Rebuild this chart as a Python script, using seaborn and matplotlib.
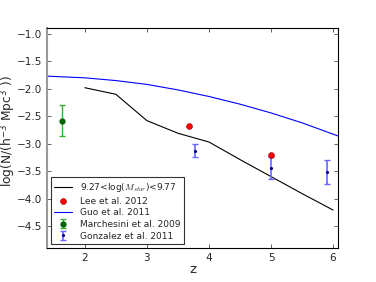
import matplotlib
matplotlib.use('Agg')
import matplotlib.pyplot as plt
import pandas as pd
import seaborn as sns

# model curve for the mass bin
z_model = [2.0, 2.5, 3.0, 3.5, 4.0, 4.5, 5.0, 5.5, 6.0]
n_model = [-1.98, -2.10, -2.58, -2.81, -2.97, -3.29, -3.60, -3.91, -4.21]

# Guo et al. 2011
z_guo = [1.4, 2.0, 2.5, 3.0, 3.5, 4.0, 4.5, 5.0, 5.5, 6.08]
n_guo = [-1.77, -1.80, -1.85, -1.92, -2.02, -2.14, -2.28, -2.44, -2.62, -2.86]

# Lee et al. 2012
z_lee = [3.68, 5.0]
n_lee = [-2.67, -3.20]

# Marchesini et al. 2009
z_mar = [1.63]
n_mar = [-2.58]
err_mar = [0.28]

# Gonzalez et al. 2011
z_gon = [3.78, 5.0, 5.9]
n_gon = [-3.13, -3.45, -3.51]
err_gon = [0.12, 0.20, 0.22]

sns.set_style('ticks')
plt.rcParams['font.family'] = ['DejaVu Sans']
plt.rcParams['mathtext.fontset'] = 'cm'

fig = plt.figure(figsize=(3.76, 2.82), dpi=100)
ax = fig.add_axes([0.125, 0.121, 0.774, 0.780])

df_model = pd.DataFrame({'z': z_model, 'n': n_model})
df_guo = pd.DataFrame({'z': z_guo, 'n': n_guo})
df_lee = pd.DataFrame({'z': z_lee, 'n': n_lee})

sns.lineplot(data=df_model, x='z', y='n', color='black', lw=0.8, ax=ax,
             label=r'9.27<log($M_{star}$)<9.77')
sns.scatterplot(data=df_lee, x='z', y='n', color='red', s=18, edgecolor='darkred',
                linewidth=0.4, ax=ax, label='Lee et al. 2012', zorder=5)
sns.lineplot(data=df_guo, x='z', y='n', color='blue', lw=0.8, ax=ax,
             label='Guo et al. 2011')
ax.errorbar(z_mar, n_mar, yerr=err_mar, fmt='o', color='darkgreen', ms=3.5,
            ecolor=(0.2, 0.7, 0.2), elinewidth=1, capsize=2, label='Marchesini et al. 2009')
ax.errorbar(z_gon, n_gon, yerr=err_gon, fmt='.', color='navy', ms=2.5,
            ecolor=(0.4, 0.4, 1.0), elinewidth=1.2, capsize=2, label='Gonzalez et al. 2011')

ax.set_xlim(1.39, 6.08)
ax.set_ylim(-4.9, -0.89)
ax.set_xticks([2, 3, 4, 5, 6])
ax.set_yticks([-1.0, -1.5, -2.0, -2.5, -3.0, -3.5, -4.0, -4.5])
ax.tick_params(direction='in', top=True, right=True, labelsize=7.5, length=3, width=0.5)
ax.set_xlabel('z', fontsize=9.5, labelpad=0)
ax.set_ylabel(r'log(N/(h$^{\mathregular{-3}}$ Mpc$^{\mathregular{3}}$ ))', fontsize=8.7)
ax.yaxis.set_label_coords(-0.1, 0.53)
for s in ax.spines.values():
    s.set_linewidth(0.8)
    s.set_color('black')
ax.spines['left'].set_color('#999999')
ax.spines['left'].set_linewidth(1.5)

leg = ax.legend(loc='lower left', fontsize=6.5, frameon=True, fancybox=False,
                numpoints=1, borderaxespad=0.4, handlelength=2.0, labelspacing=0.3)
leg.get_frame().set_edgecolor('black')
leg.get_frame().set_linewidth(0.8)

fig.savefig('out.png', dpi=100)
